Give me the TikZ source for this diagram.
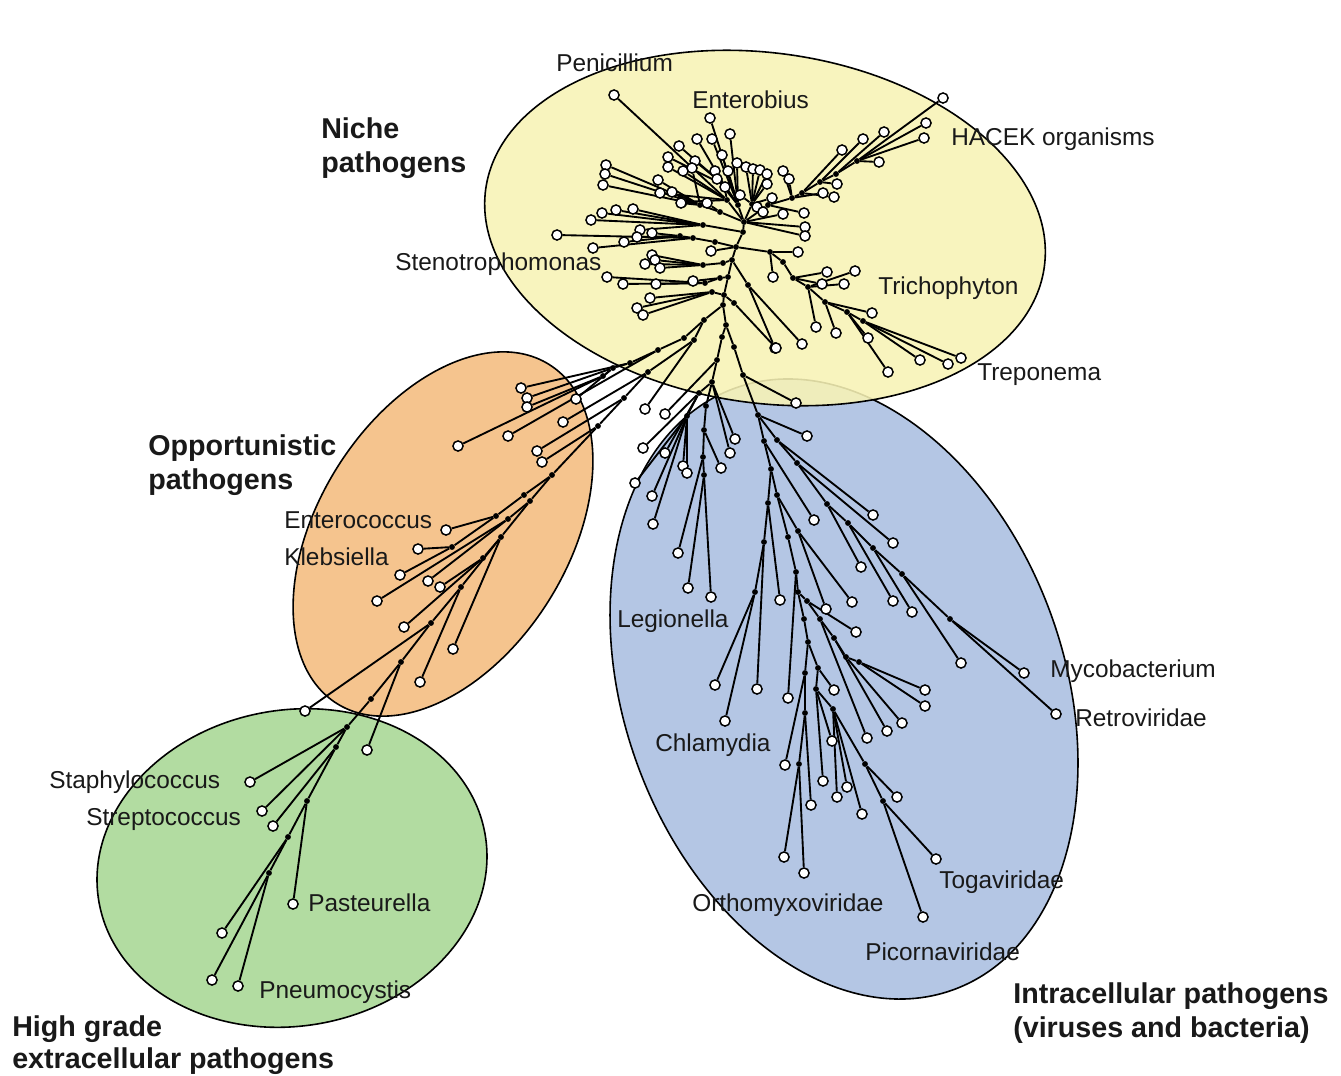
\documentclass[tikz,border=0pt]{standalone}
\usepackage{fontspec}
\setmainfont{Liberation Sans}
\pgfdeclarelayer{bg}
\pgfdeclarelayer{edges}
\pgfsetlayers{bg,edges,main}
\definecolor{yel}{RGB}{248,243,182}
\definecolor{ora}{RGB}{245,196,142}
\definecolor{grn}{RGB}{178,220,161}
\definecolor{blu}{RGB}{180,198,228}
\def\intlist{Ha/743/232/H, Hb/736/247/Ha, Hc/732/260/Hb, Hd/728/277/Hc, He/724/295/Hd,
  T1/738/205/H, T2/727/200/H, T3/752/204/H, T4/720/212/H, T5/724/185/T2,
  N1/768/205/H, N2/792/198/N1, N3/802/193/N2, N4/820/182/N3, N5/836/174/N4, N6/857/161/N5,
  S1/770/252/Hb, S2/783/262/S1, S3/793/278/S2, S4/808/287/S3, S5/825/302/S4, S6/847/312/S5, S7/863/321/S6, S8/748/285/Hc,
  W1/715/242/Hb, W2/693/238/W1, W3/680/236/W2, W4/703/225/Ha, W5/700/205/T4, W6/723/263/Hc, W7/703/265/W6, W8/720/278/Hd, W9/705/283/W8, W10/712/292/He,
  L1/723/305/He, L1b/734/303/He, L2/726/325/L1, L3/722/337/L2, L4/717/360/L3,
  O1/704/320/L1, O2/684/338/O1, O3/658/350/O2, O4/630/363/O3, O5/613/368/O4, O6/603/376/O5,
  B1/694/340/O1, B2/648/372/B1, B3/624/398/B2, B4/598/426/B3, B5/552/475/B4,
  C1/524/495/B5, C2/496/516/C1, C3/452/547/C2, D1/530/501/B5, D2/508/519/D1, E1/501/537/D1, E2/483/558/E1, F1/461/587/E1, F2/431/623/F1, F3/401/662/F2, F4/371/699/F3,
  G1/347/727/F4, G2/336/747/G1, G3/307/801/G2, G4/288/837/G3, G5/269/873/G4,
  K1/712/382/L4, K2/699/393/K1, K3/687/416/K2, K4/706/406/K1, K5/704/430/K4, K6/703/457/K5, K7/704/475/K6,
  R0/734/347/L2, R1/743/375/R0, R2/758/415/R1, R3/764/441/R2, R3b/777/440/R2, R4b/797/463/R3b, R5b/827/504/R4b, R6b/848/523/R5b, R7b/873/548/R6b, R8b/902/574/R7b, R9b/950/619/R8b,
  R4/771/469/R3, R5/768/503/R4, R5c/777/495/R4, R6/764/542/R5, R7/755/592/R6, R8/788/537/R5c, R8a/798/531/R5c, R9/796/572/R8, R10/798/592/R9, R11/807/601/R10, R12/820/619/R11, R13/834/638/R12, R14/846/657/R13, R15/859/662/R14, R16/804/619/R10, R17/808/642/R16, R19/805/673/R17, R20/805/713/R19, R21/799/764/R20, R22/818/668/R17, R23/816/689/R22, R24/833/709/R23, R26/865/764/R24, R27/883/801/R26}
\def\leaflist{T2/614/95, T1/710/118, T1/730/134, T5/697/139, T1/712/139, T5/679/146, T5/668/157, T1/722/155, T5/695/161, T2/668/167, T2/683/171, T1/715/171, T1/728/171, T1/717/179, T1/725/187, T1/737/163, T2/660/193, T2/682/202, T4/707/203,
  T3/746/167, T3/753/169, T3/760/170, T3/767/174, T3/767/184, T3/740/195, T3/757/207, T3/763/212, T3/772/198,
  N2/783/171, N2/789/179, N1/804/213, H/783/214, H/805/227, H/805/236,
  N6/943/98, N6/926/123, N6/924/138, N5/884/132, N4/863/139, N3/842/150, N6/879/162, N4/837/184, N3/834/197, N2/823/193,
  S1/798/252, S1/773/277, S3/827/272, S3/822/284, S4/855/271, S4/844/284, S5/872/313, S4/816/327, S5/836/333, S6/868/338, S7/920/360, S7/948/364, S7/961/358, S6/888/372, S8/775/348, S8/802/344,
  W5/606/165, W5/605/174, W5/603/185, W5/658/180, W5/672/192, W5/681/203, W5/692/168,
  W4/616/210, W4/633/209, W4/602/213, W4/591/220, W4/640/230,
  W3/652/233, W3/637/237, W2/557/235, W3/624/242, W2/593/248, Hb/711/251,
  W7/652/255, W7/645/264, W7/655/260, W7/660/268,
  W9/607/277, W9/623/284, W9/656/284, W8/693/281,
  W10/650/298, W10/637/308, W10/643/315,
  O4/521/388, O5/527/398, O6/527/407, O6/458/446, O5/576/399, B2/563/422, O3/508/436, B3/537/451, B4/542/462, C2/446/530, C3/418/549, C3/400/575, D2/377/601, D2/428/581, E2/440/587, E2/404/627, E1/453/649, F1/420/682, F2/305/711, F3/367/750,
  G1/250/782, G1/262/811, G2/273/826, G3/293/904, G4/222/933, G5/212/980, G5/238/986,
  B1/645/409, L4/665/414, R1/796/403, L1b/776/348, R2/807/436, K1/735/439, K1/730/453, K2/643/448, K2/665/453, K3/683/466, K3/687/473, K5/721/468, K3/635/483, K3/652/496, K3/653/524, K6/678/553, K7/688/588, K7/711/597,
  R3/814/520, R3b/873/515, R4b/893/543, R5b/861/567, R6b/893/601, R7b/912/612, R8b/961/663, R9b/1024/673, R9b/1056/714, R5/780/600, R8a/852/602, R8a/826/609, R11/856/632, R7/715/685, R7/725/721, R6/757/689, R9/788/698, R22/834/690, R15/925/690, R15/925/706, R14/902/723, R13/887/731, R12/867/738, R23/832/741, R23/823/781, R24/837/797, R24/847/787, R24/862/814, R26/897/797, R27/936/859, R27/923/917, R20/811/805, R19/785/765, R21/784/857, R21/804/873}
\begin{document}
\begin{tikzpicture}[x=0.75pt,y=-0.75pt,
  leaf/.style={circle,draw=black,fill=white,line width=1.1pt,minimum size=7.6pt,inner sep=0pt},
  dot/.style={circle,fill=black,minimum size=4.4pt,inner sep=0pt},
  edge/.style={line width=1.4pt,black},
  zone/.style={draw=black,line width=1.2pt},
  lab/.style={font=\fontsize{18.3}{21}\selectfont,anchor=base west,inner sep=0pt,text=black!90},
  glab/.style={font=\fontsize{21.5}{26}\selectfont\bfseries,anchor=base west,inner sep=0pt,text=black!90}]
\useasboundingbox (0,0) rectangle (1341,1075);
\begin{pgfonlayer}{bg}
  \fill[white] (0,0) rectangle (1341,1075);
  \draw[zone,fill=blu,rotate around={20:(844,689)}] (844,689) ellipse [x radius=220,y radius=320];
  \draw[zone,fill=yel,fill opacity=0.88,rotate around={-8:(765,228)}] (765,228) ellipse [x radius=282,y radius=175];
  \draw[zone,fill=grn,rotate around={10:(292,868)}] (292,868) ellipse [x radius=196,y radius=158];
  \draw[zone,fill=ora,rotate around={58:(443,534)}] (443,534) ellipse [x radius=200,y radius=125];
\end{pgfonlayer}
\node[dot] (H) at (744,222) {};
\foreach \n/\a/\b/\p in \intlist {\node[dot] (\n) at (\a,\b) {};}
\foreach \p/\a/\b [count=\i] in \leaflist {\node[leaf] (lf\i) at (\a,\b) {};}
\begin{pgfonlayer}{edges}
  \foreach \n/\a/\b/\p in \intlist {\draw[edge] (\p) -- (\n);}
  \foreach \p/\a/\b [count=\i] in \leaflist {\draw[edge] (\p) -- (lf\i);}
\end{pgfonlayer}
% taxon labels
\node[lab] (tPen) at (556,71) {Penicillium};
\node[lab] (tEnb) at (692,108) {Enterobius};
\node[lab] (tHac) at (951,145) {HACEK organisms};
\node[lab] (tSte) at (395,270) {Stenotrophomonas};
\node[lab] (tTri) at (878,294) {Trichophyton};
\node[lab] (tTre) at (977,380) {Treponema};
\node[lab] (tEnc) at (284,528) {Enterococcus};
\node[lab] (tKle) at (284,565) {Klebsiella};
\node[lab] (tLeg) at (617,627) {Legionella};
\node[lab] (tMyc) at (1050,677) {Mycobacterium};
\node[lab] (tRet) at (1075,726) {Retroviridae};
\node[lab] (tChl) at (655,751) {Chlamydia};
\node[lab] (tSta) at (49,788) {Staphylococcus};
\node[lab] (tStr) at (86,825) {Streptococcus};
\node[lab] (tTog) at (939,888) {Togaviridae};
\node[lab] (tPas) at (308,911) {Pasteurella};
\node[lab] (tOrt) at (692,911) {Orthomyxoviridae};
\node[lab] (tPic) at (865,960) {Picornaviridae};
\node[lab] (tPne) at (259,998) {Pneumocystis};
% group labels
\node[glab] (gN1) at (321,138) {Niche};
\node[glab] (gN2) at (321,172) {pathogens};
\node[glab] (gO1) at (148,455) {Opportunistic};
\node[glab] (gO2) at (148,489) {pathogens};
\node[glab] (gH1) at (12,1036) {High grade};
\node[glab] (gH2) at (12,1068) {extracellular pathogens};
\node[glab] (gI1) at (1013,1003) {Intracellular pathogens};
\node[glab] (gI2) at (1013,1037) {(viruses and bacteria)};
\end{tikzpicture}
\end{document}
